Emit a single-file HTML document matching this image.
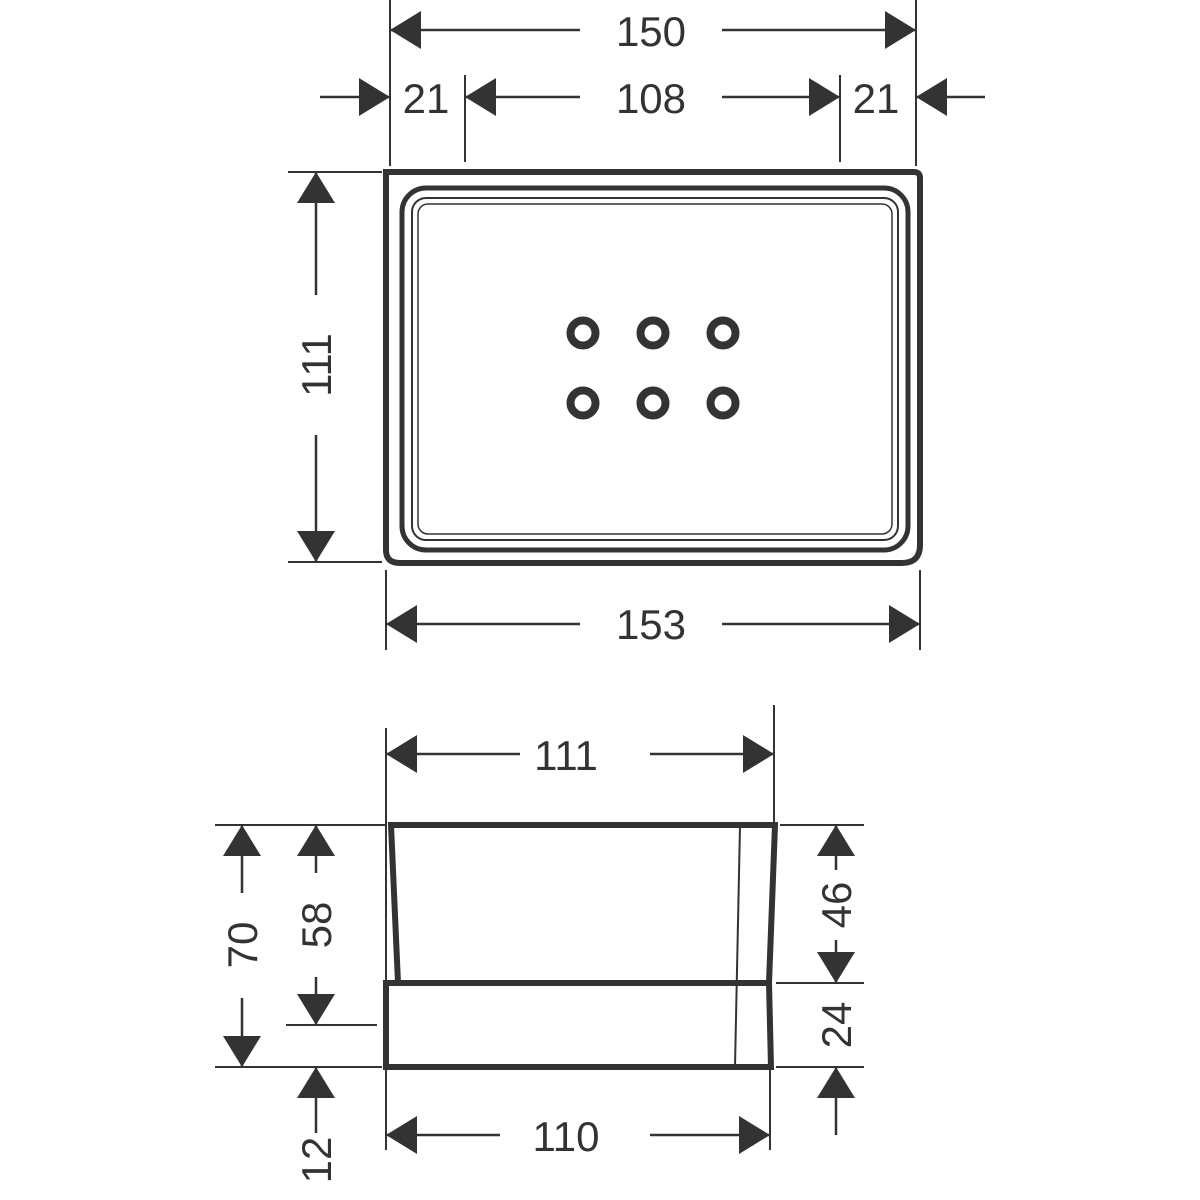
<!DOCTYPE html>
<html><head><meta charset="utf-8"><style>
html,body{margin:0;padding:0;background:#fff;}
svg{display:block}
text{font-family:"Liberation Sans",Arial,sans-serif;font-size:42px;fill:#333;}
</style></head><body>
<svg width="1200" height="1200" viewBox="0 0 1200 1200" xmlns="http://www.w3.org/2000/svg">
<defs>
<marker id="a" markerUnits="userSpaceOnUse" markerWidth="32" markerHeight="38" refX="31" refY="19" orient="auto">
<path d="M0,0 L31,19 L0,38 Z" fill="#333"/>
</marker>
</defs>
<g stroke="#333" fill="none">
<g stroke-width="2">
<line x1="390" y1="0" x2="390" y2="166"/>
<line x1="916" y1="0" x2="916" y2="166"/>
<line x1="465" y1="75" x2="465" y2="162"/>
<line x1="840" y1="75" x2="840" y2="162"/>
<line x1="288" y1="172" x2="382" y2="172"/>
<line x1="288" y1="562" x2="382" y2="562"/>
<line x1="386" y1="570" x2="386" y2="650"/>
<line x1="920" y1="570" x2="920" y2="650"/>
</g>
<g stroke-width="2.5">
<line x1="580" y1="30" x2="390" y2="30" marker-end="url(#a)"/>
<line x1="722" y1="30" x2="916" y2="30" marker-end="url(#a)"/>
<line x1="320" y1="97" x2="390" y2="97" marker-end="url(#a)"/>
<line x1="580" y1="97" x2="465" y2="97" marker-end="url(#a)"/>
<line x1="722" y1="97" x2="840" y2="97" marker-end="url(#a)"/>
<line x1="985" y1="97" x2="916" y2="97" marker-end="url(#a)"/>
<line x1="316" y1="295" x2="316" y2="172" marker-end="url(#a)"/>
<line x1="316" y1="435" x2="316" y2="562" marker-end="url(#a)"/>
<line x1="580" y1="624" x2="386" y2="624" marker-end="url(#a)"/>
<line x1="722" y1="624" x2="920" y2="624" marker-end="url(#a)"/>
</g>
<path d="M386,172 H914 Q920,172 920,178 V545 Q920,563 902,563 H400 Q386,563 386,550 Z" stroke-width="6"/>
<rect x="402" y="188" width="506" height="362" rx="24" stroke-width="5"/>
<rect x="412" y="198" width="486" height="342" rx="14" stroke-width="2"/>
<rect x="418" y="204" width="474" height="330" rx="10" stroke-width="1.5"/>
<g stroke-width="8">
<circle cx="583" cy="333" r="12.5"/><circle cx="653" cy="333" r="12.5"/><circle cx="723" cy="333" r="12.5"/>
<circle cx="583" cy="403" r="12.5"/><circle cx="653" cy="403" r="12.5"/><circle cx="723" cy="403" r="12.5"/>
</g>
<g stroke-width="2">
<line x1="386" y1="728" x2="386" y2="1150"/>
<line x1="774" y1="705" x2="774" y2="824"/>
<line x1="770" y1="1070" x2="770" y2="1150"/>
<line x1="215" y1="825" x2="385" y2="825"/>
<line x1="215" y1="1067" x2="382" y2="1067"/>
<line x1="286" y1="1025" x2="377" y2="1025"/>
<line x1="780" y1="825" x2="864" y2="825"/>
<line x1="776" y1="983" x2="864" y2="983"/>
<line x1="776" y1="1067" x2="864" y2="1067"/>
</g>
<g stroke-width="2.5">
<line x1="520" y1="754" x2="386" y2="754" marker-end="url(#a)"/>
<line x1="650" y1="754" x2="774" y2="754" marker-end="url(#a)"/>
<line x1="500" y1="1135" x2="386" y2="1135" marker-end="url(#a)"/>
<line x1="650" y1="1135" x2="770" y2="1135" marker-end="url(#a)"/>
<line x1="242" y1="893" x2="242" y2="825" marker-end="url(#a)"/>
<line x1="242" y1="998" x2="242" y2="1067" marker-end="url(#a)"/>
<line x1="316" y1="873" x2="316" y2="825" marker-end="url(#a)"/>
<line x1="316" y1="977" x2="316" y2="1025" marker-end="url(#a)"/>
<line x1="316" y1="1133" x2="316" y2="1067" marker-end="url(#a)"/>
<line x1="836" y1="870" x2="836" y2="825" marker-end="url(#a)"/>
<line x1="836" y1="940" x2="836" y2="983" marker-end="url(#a)"/>
<line x1="836" y1="1135" x2="836" y2="1067" marker-end="url(#a)"/>
</g>
<g stroke-width="6" stroke-linejoin="miter">
<path d="M391,825 H775 L769,983 H398 Z"/>
<path d="M386,983 H769 L771,1067 H386 Z"/>
</g>
<g stroke-width="2">
<line x1="740" y1="826" x2="735" y2="1067"/>
</g>
</g>
<g text-anchor="middle">
<text x="651" y="46">150</text>
<text x="426" y="113">21</text>
<text x="651" y="113">108</text>
<text x="876" y="113">21</text>
<text x="651" y="639">153</text>
<text x="566" y="770">111</text>
<text x="566" y="1151">110</text>
<text transform="translate(331,365) rotate(-90)">111</text>
<text transform="translate(257,945) rotate(-90)">70</text>
<text transform="translate(331,925) rotate(-90)">58</text>
<text transform="translate(331,1160) rotate(-90)">12</text>
<text transform="translate(851,905) rotate(-90)">46</text>
<text transform="translate(851,1025) rotate(-90)">24</text>
</g>
</svg>
</body></html>
